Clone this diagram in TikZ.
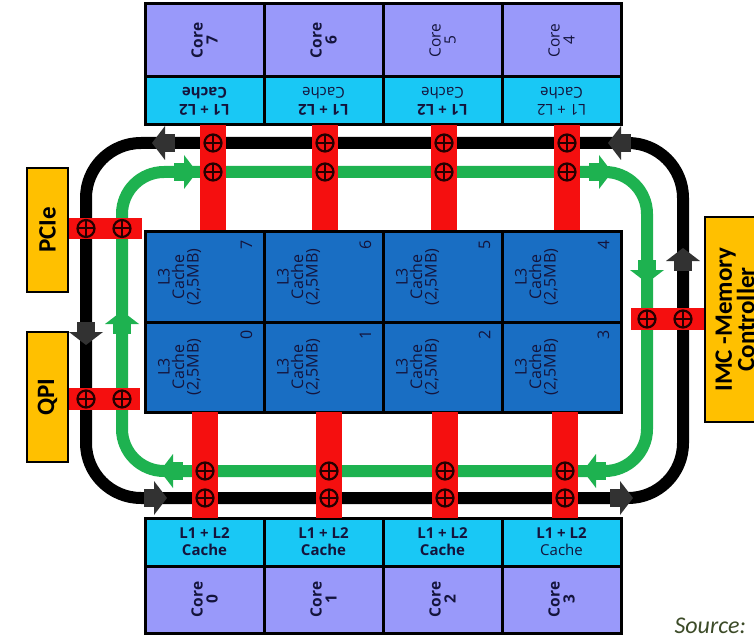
\documentclass[tikz,border=0pt]{standalone}
\usepackage{fontspec}
\setmainfont{Open Sans}
\newfontfamily\calib{Carlito}
\usetikzlibrary{positioning}

\definecolor{corepurple}{RGB}{153,153,250}
\definecolor{cacheblue}{RGB}{25,200,245}
\definecolor{lthreeblue}{RGB}{25,110,195}
\definecolor{ioyellow}{RGB}{255,192,0}
\definecolor{ringgreen}{RGB}{30,178,80}
\definecolor{ringred}{RGB}{245,15,15}
\definecolor{arrowgray}{RGB}{50,50,50}
\definecolor{chiptext}{RGB}{20,20,60}
\definecolor{srcgreen}{RGB}{60,75,40}

\tikzset{
  box/.style={draw=black, line width=3pt, inner sep=0pt, minimum width=119pt},
  corebox/.style={box, fill=corepurple},
  cachebox/.style={box, fill=cacheblue, minimum height=48pt},
  lthree/.style={box, fill=lthreeblue, minimum height=90pt},
  iobox/.style={draw=black, line width=2.5pt, fill=ioyellow, inner sep=0pt},
  redbar/.style={fill=ringred, inner sep=0pt},
  coretext/.style={rotate=90, align=center, text=chiptext},
  cachetext/.style={align=center, text=chiptext, font=\fontsize{15}{17}\selectfont},
  l3text/.style={rotate=90, align=center, text=chiptext, font=\fontsize{16}{14.5}\selectfont},
  iotext/.style={rotate=90, align=center, font=\calib\bfseries\fontsize{25}{21}\selectfont},
  xorsym/.style={circle, draw=black!85!red, line width=2.2pt, minimum size=17pt, inner sep=0pt,
    path picture={\draw[black!85!red, line width=2pt]
      (path picture bounding box.north) -- (path picture bounding box.south)
      (path picture bounding box.west) -- (path picture bounding box.east);}},
  blockarrow/.pic={
    \fill (-23,-9) rectangle (-12,9);
    \fill (-13,-17) -- (0,0) -- (-13,17) -- cycle;}
}

\begin{document}
\begin{tikzpicture}[x=1pt, y=-1pt]
  \clip (0,0) rectangle (754,636);

  % the two rings
  \draw[line width=12pt, black, rounded corners=55pt] (86,143) rectangle (683,498);
  \draw[line width=12pt, ringgreen, rounded corners=42pt] (122,172) rectangle (647,471);
  \foreach \x/\y/\a in {152/143/180, 86/345/270, 167/498/0, 633/498/0, 683/248/90, 608/143/180}
    \pic[color=arrowgray, rotate=\a] at (\x,\y) {blockarrow};
  \foreach \x/\y/\a in {197/172/0, 612/172/0, 647/283/270, 583/471/180, 160/471/180, 122/311/90}
    \pic[color=ringgreen, rotate=\a] at (\x,\y) {blockarrow};

  % upper cores 7..4
  \foreach \k/\n/\cf/\lf/\ff in {0/7/\bfseries/\bfseries/\bfseries, 1/6/\bfseries/\bfseries/\mdseries,
      2/5/\mdseries/\bfseries/\mdseries, 3/4/\mdseries/\mdseries/\mdseries} {
    \node[corebox, minimum height=73pt] (core\n) at (204.5+119*\k,40.5) {};
    \node[coretext, font=\fontsize{15.5}{15}\selectfont\cf] at (core\n) {Core\\\n};
    \node[cachebox] (cache\n) at (204.5+119*\k,101) {};
    \node[cachetext, rotate=180] at (cache\n) {\lf L1 + L2\\\ff Cache};
  }

  % lower cores 0..3
  \foreach \k/\n/\cf/\lf/\ff in {0/0/\bfseries/\bfseries/\bfseries, 1/1/\bfseries/\bfseries/\bfseries,
      2/2/\bfseries/\bfseries/\bfseries, 3/3/\bfseries/\bfseries/\mdseries} {
    \node[corebox, minimum height=67pt] (core\n) at (204.5+119*\k,599.5) {};
    \node[coretext, font=\fontsize{15.5}{15}\selectfont\cf] at (core\n) {Core\\\n};
    \node[cachebox] (cache\n) at (204.5+119*\k,542) {};
    \node[cachetext] at (cache\n) {\lf L1 + L2\\\ff Cache};
  }

  % L3 slices
  \foreach \k/\n/\m in {0/7/0, 1/6/1, 2/5/2, 3/4/3} {
    \node[lthree] (lt\n) at (204.5+119*\k,277) {};
    \node[lthree] (lt\m) at (204.5+119*\k,367) {};
    \foreach \s in {\n,\m} {
      \node[l3text] at ([xshift=-25pt]lt\s.center) {L3\\Cache\\(2,5MB)};
      \node[l3text] at ([xshift=-19pt, yshift=-14pt]lt\s.north east) {\s};
    }
  }

  % ring stops
  \foreach \x/\n in {213/7, 325/6, 444/5, 567/4} {
    \node[redbar, minimum width=26pt, minimum height=105pt] (stop\n) at (\x,177.5) {};
    \node[xorsym] at (\x,143) {};
    \node[xorsym] at (\x,172) {};
  }
  \foreach \x/\n in {205/0, 329/1, 445/2, 565/3} {
    \node[redbar, minimum width=26pt, minimum height=106pt] (stop\n) at (\x,465) {};
    \node[xorsym] at (\x,471) {};
    \node[xorsym] at (\x,498) {};
  }
  \node[redbar, minimum width=75pt, minimum height=21pt] (stoppcie) at (104.5,228.5) {};
  \node[redbar, minimum width=76pt, minimum height=22pt] (stopqpi) at (102,399) {};
  \node[redbar, minimum width=75pt, minimum height=22pt] (stopimc) at (668.5,319) {};
  \foreach \x/\y in {86/228.5, 122/228.5, 86/399, 122/399, 647/319, 683/319}
    \node[xorsym] at (\x,\y) {};

  % uncore
  \node[iobox, minimum width=41pt, minimum height=124pt] (pcie) at (47.5,230) {};
  \node[iotext] at (pcie) {PCIe};
  \node[iobox, minimum width=41pt, minimum height=130pt] (qpi) at (47.5,397) {};
  \node[iotext] at (qpi) {QPI};
  \node[iobox, minimum width=60pt, minimum height=205pt] (imc) at (735,319.5) {};
  \node[iotext] at (imc) {IMC -Memory\\Controller};

  \node[anchor=base west, text=srcgreen, font=\calib\itshape\fontsize{24}{28}\selectfont] (src) at (671,633) {Source:};
\end{tikzpicture}
\end{document}
